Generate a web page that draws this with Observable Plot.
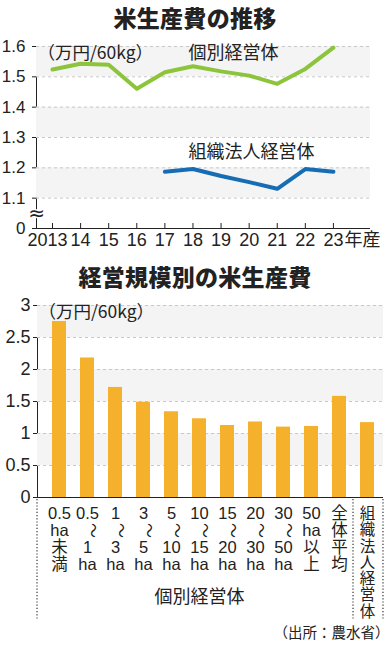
<!DOCTYPE html>
<html>
<head>
<meta charset="utf-8">
<script src="https://cdn.jsdelivr.net/npm/d3@7"></script>
<script src="https://cdn.jsdelivr.net/npm/@observablehq/plot@0.6"></script>
<style>
  html, body { margin: 0; padding: 0; background: #fff; }
  #wrap { position: relative; width: 390px; height: 650px; overflow: hidden; font-family: "Noto Sans CJK JP", sans-serif; color: #222; }
  .title { position: absolute; left: 0; width: 390px; text-align: center; font-weight: 900; font-size: 23px; line-height: 1; letter-spacing: 0.3px; }
  #t1 { top: 6px; }
  #t2 { top: 265px; }
  #c1 { position: absolute; left: 0; top: 36px; }
  #c2 { position: absolute; left: 0; top: 292px; }
</style>
</head>
<body>
<div id="wrap">
  <div class="title" id="t1">米生産費の推移</div>
  <div id="c1"></div>
  <div class="title" id="t2">経営規模別の米生産費</div>
  <div id="c2"></div>
</div>
<script>
// ---------- Data: chart 1 (米生産費の推移) ----------
const years = [2013, 2014, 2015, 2016, 2017, 2018, 2019, 2020, 2021, 2022, 2023];
const yearLabels = ["2013", "14", "15", "16", "17", "18", "19", "20", "21", "22", "23"];
const indivCost = [1.524, 1.543, 1.540, 1.461, 1.515, 1.535, 1.518, 1.504, 1.477, 1.526, 1.596];
const corpYears = [2017, 2018, 2019, 2020, 2021, 2022, 2023];
const corpCost = [1.187, 1.196, 1.173, 1.153, 1.131, 1.196, 1.187];
const yTicks1 = [1.0, 1.1, 1.2, 1.3, 1.4, 1.5, 1.6];
const yTickLabels1 = ["0", "1.1", "1.2", "1.3", "1.4", "1.5", "1.6"];
const seriesNames = ["個別経営体", "組織法人経営体"];
const seriesLabelYear = [2019.44, 2020.08];
const seriesLabelValue = [1.577, 1.2505];
const unitLabel = "（万円/60kg）";
const yearSuffix = "年産";

// ---------- Data: chart 2 (経営規模別の米生産費) ----------
const sizeCats = ["0.5ha未満", "0.5〜1ha", "1〜3ha", "3〜5ha", "5〜10ha", "10〜15ha", "15〜20ha", "20〜30ha", "30〜50ha", "50ha以上", "全体平均", "組織法人経営体"];
const sizeCost = [2.75, 2.18, 1.72, 1.49, 1.34, 1.23, 1.125, 1.18, 1.10, 1.11, 1.58, 1.17];
const sizeLabelLines = [
  ["0.5", "ha", "未", "満"],
  ["0.5", "〜", "1", "ha"],
  ["1", "〜", "3", "ha"],
  ["3", "〜", "5", "ha"],
  ["5", "〜", "10", "ha"],
  ["10", "〜", "15", "ha"],
  ["15", "〜", "20", "ha"],
  ["20", "〜", "30", "ha"],
  ["30", "〜", "50", "ha"],
  ["50", "ha", "以", "上"],
  ["全", "体", "平", "均"],
  ["組", "織", "法", "人", "経", "営", "体"]
];
const yTicks2 = [0, 0.5, 1, 1.5, 2, 2.5, 3];
const yTickLabels2 = ["0", "0.5", "1", "1.5", "2", "2.5", "3"];
const groupLabel = "個別経営体";
const sourceLabel = "（出所：農水省）";

// ---------- Styles ----------
const GREEN = "#8cc43c";
const BLUE = "#176db4";
const ORANGE = "#f5b12c";
const BAND = "#f4f4f4";
const GRID = "#c8c8c8";
const INK = "#222";
const LATIN = "'Liberation Sans', 'Noto Sans CJK JP', sans-serif";
const CJK = "'Noto Sans CJK JP', sans-serif";

// ---------- Chart 1 ----------
const xMin = 2012.43, xMax = 2024.32;
const indivRows = years.map((y, i) => ({year: y, value: indivCost[i]}));
const corpRows = corpYears.map((y, i) => ({year: y, value: corpCost[i]}));
const yearRows = years.map((y, i) => ({year: y, label: yearLabels[i]}));
const seriesLabelRows = seriesNames.map((n, i) => ({name: n, year: seriesLabelYear[i], value: seriesLabelValue[i]}));
const bands1 = [[1.5, 1.6], [1.3, 1.4], [1.1, 1.2]];

const H1 = 222, MT1 = 10, MB1 = 30;
const chart1 = Plot.plot({
  width: 390, height: H1,
  marginTop: MT1, marginBottom: MB1, marginLeft: 36, marginRight: 20,
  style: {fontFamily: LATIN, fontSize: "17px", color: INK, background: "transparent", overflow: "visible"},
  x: {domain: [xMin, xMax], axis: null},
  y: {
    domain: [1.0, 1.6], ticks: yTicks1, tickSize: 4, tickPadding: 7, line: true, label: null,
    tickFormat: d => yTickLabels1[yTicks1.indexOf(d)]
  },
  marks: [
    Plot.rect(bands1, {y1: d => d[0], y2: d => d[1], fill: BAND}),
    Plot.ruleY(yTicks1.slice(1), {stroke: GRID, strokeDasharray: "3,3"}),
    Plot.ruleY([1.0], {stroke: INK}),
    Plot.ruleX(years, {stroke: INK, insetTop: H1 - MT1 - MB1 - 5}),
    Plot.line(indivRows, {x: "year", y: "value", stroke: GREEN, strokeWidth: 4}),
    Plot.line(corpRows, {x: "year", y: "value", stroke: BLUE, strokeWidth: 4}),
    Plot.text(yearRows.slice(0, 1), {x: "year", text: "label", frameAnchor: "bottom", dy: 17, dx: -5, fontSize: 18, fill: INK}),
    Plot.text(yearRows.slice(1), {x: "year", text: "label", frameAnchor: "bottom", dy: 17, fontSize: 18, fill: INK}),
    Plot.text([yearSuffix], {x: () => years[years.length - 1], text: d => d, frameAnchor: "bottom", textAnchor: "start", dx: 11, dy: 17, fontSize: 18, fontFamily: CJK, fill: INK}),
    Plot.text(["≈"], {x: () => xMin, y: () => 1.05, text: d => d, fontSize: 20, fontFamily: "'DejaVu Sans', sans-serif", fill: INK, stroke: "white", strokeWidth: 3}),
    Plot.text([unitLabel], {text: d => d, frameAnchor: "top-left", textAnchor: "start", dx: 1, fontSize: 17.5, fontFamily: CJK, fill: INK}),
    Plot.text(seriesLabelRows, {x: "year", y: "value", text: "name", fontSize: 18, fontFamily: CJK, fill: INK})
  ]
});
document.getElementById("c1").appendChild(chart1);

// ---------- Chart 2 ----------
const sizeRows = sizeCats.map((c, i) => ({cat: c, cost: sizeCost[i], lines: sizeLabelLines[i]}));
const shortRows = sizeRows.filter(d => d.lines.length <= 4);
const longRows = sizeRows.filter(d => d.lines.length > 4);
const tildeRows = sizeRows.filter(d => d.lines[1] === "〜");
const bands2 = [[2.5, 3], [1.5, 2], [0.5, 1]];

function dividers(...args) {
  const dims = args.find(a => a && typeof a === "object" && a.marginLeft !== undefined);
  const sc = args.find(a => a && typeof a === "object" && typeof a.x === "function");
  const x = sc.x;
  const bw = x.bandwidth ? x.bandwidth() : 0;
  const yTop = dims.height - dims.marginBottom;
  const yBot = yTop + 122;
  const xs = [
    dims.marginLeft,
    (x(sizeCats[10]) + bw + x(sizeCats[11])) / 2,
    dims.width - dims.marginRight
  ];
  const g = d3.create("svg:g");
  g.selectAll("line").data(xs).join("line")
    .attr("x1", d => d).attr("x2", d => d)
    .attr("y1", yTop + 2).attr("y2", yBot)
    .attr("stroke", INK).attr("stroke-width", 1.1).attr("stroke-dasharray", "1.2,2");
  return g.node();
}

const labelText = d => d.lines.map(s => s === "〜" ? "\u00a0" : s).join("\n");

const chart2 = Plot.plot({
  width: 390, height: 358,
  marginTop: 13, marginBottom: 153, marginLeft: 37, marginRight: 7,
  style: {fontFamily: LATIN, fontSize: "18px", color: INK, background: "transparent", overflow: "visible"},
  x: {domain: sizeCats, axis: null, paddingInner: 0.509, paddingOuter: 0.325, align: 0.6},
  y: {
    domain: [0, 3], ticks: yTicks2, tickSize: 4, tickPadding: 3, line: true, label: null,
    tickFormat: d => yTickLabels2[yTicks2.indexOf(d)]
  },
  marks: [
    Plot.rect(bands2, {y1: d => d[0], y2: d => d[1], fill: BAND}),
    Plot.ruleY(yTicks2.slice(1), {stroke: GRID, strokeDasharray: "3,3"}),
    Plot.barY(sizeRows, {x: "cat", y: "cost", fill: ORANGE}),
    Plot.ruleY([0], {stroke: INK}),
    Plot.text(shortRows, {x: "cat", text: labelText, frameAnchor: "bottom", lineAnchor: "top", lineHeight: 1.02, dy: 10, fontSize: 16.5, fill: INK}),
    Plot.text(longRows, {x: "cat", text: labelText, frameAnchor: "bottom", lineAnchor: "top", lineHeight: 1.05, dy: 10, fontSize: 15.5, fill: INK}),
    Plot.text(tildeRows, {x: "cat", text: () => "〜", rotate: 90, frameAnchor: "bottom", dy: 33, fontSize: 15, fontFamily: CJK, fill: INK}),
    dividers,
    Plot.text([groupLabel], {x: () => sizeCats[5], text: d => d, frameAnchor: "bottom", dy: 105, fontSize: 18, fontFamily: CJK, fill: INK}),
    Plot.text([sourceLabel], {text: d => d, frameAnchor: "bottom-right", textAnchor: "end", dx: 6, dy: 140, fontSize: 14.5, fontFamily: CJK, fill: INK}),
    Plot.text([unitLabel], {text: d => d, frameAnchor: "top-left", textAnchor: "start", dx: 1, fontSize: 17.5, fontFamily: CJK, fill: INK})
  ]
});
document.getElementById("c2").appendChild(chart2);
</script>
</body>
</html>
